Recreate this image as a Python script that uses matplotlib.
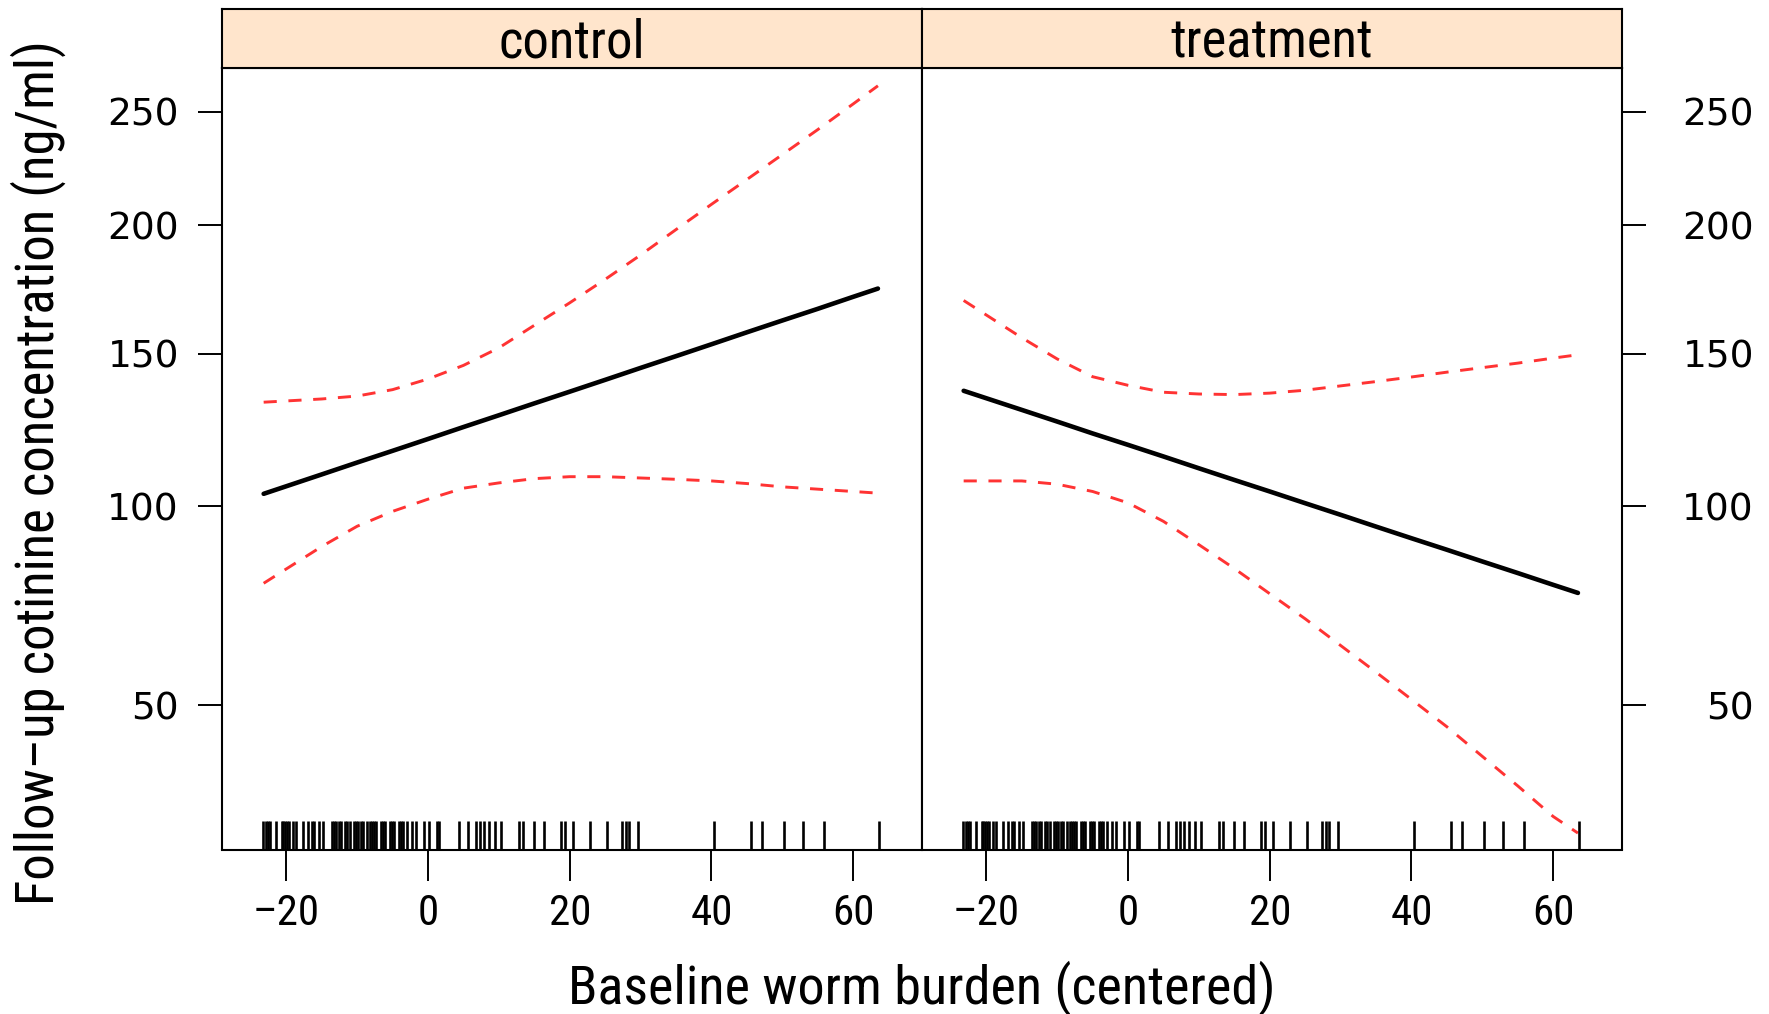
import numpy as np
import matplotlib.pyplot as plt

# baseline worm burden (centered) grid and effect estimates
x_grid = [-23.2, -15, -10, -5, 0, 5, 10, 15, 20, 25, 30, 35, 40, 45, 50, 55, 60, 63.5]

ctrl_fit = [103.7, 109.6, 113.3, 117.0, 120.8, 124.7, 128.6, 132.6, 136.6,
            140.7, 144.9, 149.1, 153.4, 157.8, 162.2, 166.6, 171.2, 174.4]
ctrl_upper = [133.0, 134.1, 135.1, 137.3, 141.0, 145.8, 152.1, 160.4, 168.9,
              178.0, 187.7, 198.1, 208.7, 219.4, 230.4, 241.7, 253.6, 262.2]
ctrl_lower = [78.6, 88.5, 94.2, 98.5, 102.1, 105.4, 107.0, 108.3, 108.9,
              108.9, 108.5, 108.1, 107.6, 106.8, 105.8, 105.1, 104.4, 103.9]

trt_fit = [136.9, 130.4, 126.5, 122.6, 118.9, 115.2, 111.5, 107.9, 104.4,
           100.9, 97.5, 94.1, 90.8, 87.6, 84.4, 81.3, 78.2, 76.1]
trt_upper = [169.8, 155.8, 148.1, 141.8, 138.8, 136.4, 135.8, 135.6, 136.1,
             137.1, 138.6, 140.1, 141.7, 143.4, 145.0, 146.6, 148.4, 149.6]
trt_lower = [107.6, 107.6, 106.6, 104.4, 101.0, 95.6, 89.0, 82.5, 75.9,
             69.6, 63.2, 57.1, 51.2, 45.6, 39.9, 34.6, 29.5, 26.9]

# observed values (rug)
rug_x = [-23.25, -22.9, -22.6, -22.3, -21.47, -20.66, -20.4, -20.2, -19.9,
         -19.6, -19.1, -18.65, -17.64, -16.88, -16.4, -16.1, -15.35, -14.85,
         -13.6, -13.3, -12.97, -12.6, -12.33, -11.7, -11.4, -11.08, -10.45,
         -10.1, -9.82, -9.5, -9.19, -8.56, -8.2, -7.93, -7.6, -7.3, -6.67,
         -6.3, -6.04, -5.4, -5.1, -4.78, -4.15, -3.8, -3.5, -2.9, -2.26,
         -1.63, -0.5, 0.14, 1.33, 1.52, 4.35, 5.6, 6.8, 7.3, 7.9, 8.6, 9.4,
         10.3, 12.9, 13.4, 15.0, 16.3, 18.8, 19.3, 20.4, 22.9, 25.3, 27.4,
         27.9, 28.3, 29.7, 40.4, 45.6, 47.2, 50.3, 52.9, 55.9, 63.6]

panels = ["control", "treatment"]
fits = [ctrl_fit, trt_fit]
uppers = [ctrl_upper, trt_upper]
lowers = [ctrl_lower, trt_lower]
xticks = [-20, 0, 20, 40, 60]
xticklabels = ["\u201320", "0", "20", "40", "60"]
yticks = [50, 100, 150, 200, 250]

W, H = 1769, 1014
fig = plt.figure(figsize=(W / 100, H / 100), dpi=100)

narrow = ["Roboto Condensed", "DejaVu Sans"]

left, mid, right = 222 / W, 922 / W, 1622 / W
bot, top, stop = 1 - 849.5 / H, 1 - 67.7 / H, 1 - 9 / H

for i, name in enumerate(panels):
    x0 = left if i == 0 else mid
    ax = fig.add_axes([x0, bot, mid - left, top - bot])
    ax.set_yscale("function", functions=(np.sqrt, lambda v: np.square(v)))
    ax.plot(x_grid, fits[i], color="black", lw=3.3, solid_capstyle="round")
    ax.plot(x_grid, uppers[i], color="#ff3333", lw=2.1, ls=(0, (4.5, 4)))
    ax.plot(x_grid, lowers[i], color="#ff3333", lw=2.1, ls=(0, (4.5, 4)))
    ax.vlines(rug_x, 0, 0.036, color="black", lw=1.9,
              transform=ax.get_xaxis_transform())
    ax.set_xlim(-29.08, 69.72)
    ax.set_ylim(24.45, 270.9)
    ax.set_xticks(xticks)
    ax.set_xticklabels(xticklabels, fontsize=31, family=narrow)
    ax.tick_params(axis="x", length=22, width=1.4, pad=9)
    ax.set_yticks(yticks)
    ax.set_yticklabels([str(v) for v in yticks])
    ax.yaxis.set_minor_locator(plt.NullLocator())
    if i == 0:
        ax.tick_params(axis="y", length=17, width=1.4, labelsize=27, pad=14)
    else:
        ax.yaxis.tick_right()
        ax.tick_params(axis="y", length=17, width=1.4, labelsize=27, pad=78)
        for lab in ax.get_yticklabels():
            lab.set_ha("right")
    for s in ax.spines.values():
        s.set_linewidth(1.5)

    sx = fig.add_axes([x0, top, mid - left, stop - top])
    sx.set_facecolor("#ffe5cc")
    sx.set_xticks([])
    sx.set_yticks([])
    for s in sx.spines.values():
        s.set_linewidth(1.5)
    sx.text(0.5, 0.42, name, ha="center", va="center", fontsize=38,
            transform=sx.transAxes, family=narrow)

fig.text((left + right) / 2, 1 - 988 / H, "Baseline worm burden (centered)",
         ha="center", va="center", fontsize=39, family=narrow)
fig.text(38 / W, 1 - 473 / H, "Follow\u2013up cotinine concentration (ng/ml)",
         ha="center", va="center", rotation=90, fontsize=38, family=narrow)

fig.savefig("out.png", dpi=100)
